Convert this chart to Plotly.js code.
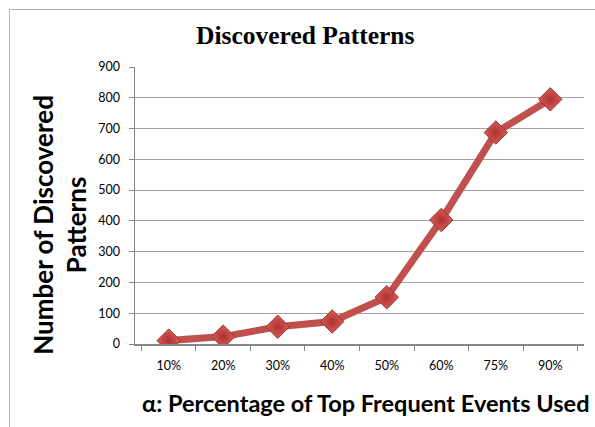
<!DOCTYPE html>
<html>
<head>
<meta charset="utf-8">
<script src="https://cdn.plot.ly/plotly-3.0.1.min.js"></script>
<style>
  html, body { margin: 0; padding: 0; background: #ffffff; }
  #wrap { position: relative; width: 595px; height: 427px; overflow: hidden; }
  #frame { position: absolute; left: 9px; top: 9px; width: 600px; height: 430px;
           border-left: 1px solid #b5b5b5; border-top: 1px solid #b5b5b5; pointer-events: none; }
  #chart { position: absolute; left: 0; top: 0; width: 595px; height: 427px; }
</style>
</head>
<body>
<div id="wrap">
  <div id="chart"></div>
  <div id="frame"></div>
</div>
<script>
// Share of top frequent events used (alpha) and the number of patterns found
const alphaLabels = ['10%', '20%', '30%', '40%', '50%', '60%', '75%', '90%'];
const patternCounts = [11, 24, 56, 73, 152, 403, 687, 795];
const yTicks = [0, 100, 200, 300, 400, 500, 600, 700, 800, 900];

const labelFont = 'Lato, "Open Sans", sans-serif';

const trace = {
  x: alphaLabels,
  y: patternCounts,
  type: 'scatter',
  mode: 'lines+markers',
  line: { color: '#c0504d', width: 7 },
  marker: {
    symbol: 'diamond',
    size: 18,
    color: '#de5b57',
    gradient: { type: 'radial', color: '#a8322f' },
    line: { color: '#8e3532', width: 1 }
  },
  hoverinfo: 'x+y'
};

const layout = {
  width: 595,
  height: 427,
  margin: { l: 135, r: 11, t: 67, b: 83 },
  paper_bgcolor: '#ffffff',
  plot_bgcolor: '#ffffff',
  showlegend: false,
  title: {
    text: '<b>Discovered Patterns</b>',
    font: { family: '"Liberation Serif", "Times New Roman", serif', size: 25.5, color: '#000000' },
    x: 0.513, xanchor: 'center',
    y: 0.918, yanchor: 'middle'
  },
  xaxis: {
    type: 'category',
    tickson: 'boundaries',
    ticks: 'outside',
    ticklen: 5,
    tickcolor: '#868686',
    showline: true,
    linecolor: '#868686',
    linewidth: 1.5,
    showgrid: false,
    zeroline: false,
    tickfont: { family: labelFont, size: 12.5, color: '#000000' },
    ticklabelstandoff: 9
  },
  yaxis: {
    range: [0, 900],
    tickvals: yTicks,
    ticktext: yTicks.map(String),
    ticks: 'outside',
    ticklen: 5,
    tickcolor: '#868686',
    showline: true,
    linecolor: '#868686',
    linewidth: 1.5,
    showgrid: true,
    gridcolor: '#a3a3a3',
    gridwidth: 1,
    zeroline: false,
    tickfont: { family: labelFont, size: 12.5, color: '#000000' },
    ticklabelstandoff: 6
  },
  annotations: [
    {
      text: '<b>α: Percentage of Top Frequent Events Used</b>',
      xref: 'paper', yref: 'paper',
      x: 0.514, y: -0.213, xanchor: 'center', yanchor: 'middle',
      showarrow: false,
      font: { family: labelFont, size: 23.5, color: '#000000' }
    },
    {
      text: '<b>Number of Discovered<br>Patterns</b>',
      xref: 'paper', yref: 'paper',
      x: -0.169, y: 0.431, xanchor: 'center', yanchor: 'middle',
      textangle: -90,
      showarrow: false,
      font: { family: labelFont, size: 26, color: '#000000' }
    }
  ]
};

Plotly.newPlot('chart', [trace], layout, { displayModeBar: false, staticPlot: true });
</script>
</body>
</html>
